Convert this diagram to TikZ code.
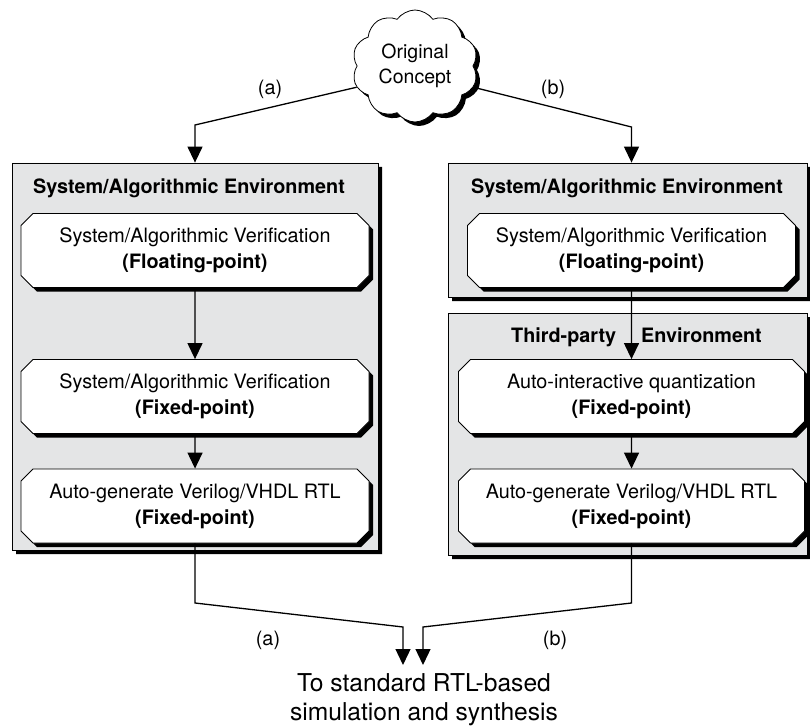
\documentclass[tikz,border=0pt]{standalone}
\usepackage{fontspec}
\setmainfont{TeX Gyre Heros}
\usetikzlibrary{arrows.meta,shapes.misc,shapes.symbols,shadows}
\definecolor{envgray}{HTML}{E4E5E6}
\tikzset{
  boxshadow/.style={drop shadow={shadow xshift=4pt, shadow yshift=-4pt, fill=black, opacity=1}},
  envbox/.style={chamfered rectangle, chamfered rectangle xsep=6pt,
    chamfered rectangle ysep=6pt, draw, line width=0.8pt, fill=envgray,
    inner sep=0pt, boxshadow},
  stepbox/.style={chamfered rectangle, chamfered rectangle xsep=6pt,
    chamfered rectangle ysep=6pt, draw, line width=0.8pt, fill=white,
    inner sep=0pt, minimum height=74pt, align=center, boxshadow,
    font=\fontsize{19.8}{26}\selectfont},
  envtitle/.style={font=\fontsize{19.8}{26}\selectfont\bfseries},
  lbl/.style={font=\fontsize{19.8}{26}\selectfont},
  flow/.style={line width=1.3pt, -{Triangle[width=15pt,length=16pt]}}
}
\begin{document}
\begin{tikzpicture}[x=1pt,y=-1pt]
  \useasboundingbox (0,0) rectangle (810,727);
  \node[cloud, cloud puffs=10, cloud puff arc=110, aspect=1.15, draw,
    fill=white, line width=0.8pt, minimum width=126pt, minimum height=112pt,
    inner sep=0pt, align=center, boxshadow,
    font=\fontsize{19.5}{25}\selectfont] (concept) at (415,66) {Original\\Concept};

  \node[envbox, minimum width=366pt, minimum height=387pt] (envA) at (195,356.5) {};
  \node[envbox, minimum width=359pt, minimum height=134pt] (envB) at (627.5,230) {};
  \node[envbox, minimum width=359pt, minimum height=242pt] (envC) at (627.5,434) {};
  \node[envtitle] (titleA) at (189,188) {System/Algorithmic Environment};
  \node[envtitle] (titleB) at (627,188) {System/Algorithmic Environment};
  \node[envtitle] (titleC) at (636.5,337) {Third-party\hspace{25pt}Environment};

  \node[stepbox, minimum width=348pt] (verA1) at (195,250.5)
    {System/Algorithmic Verification\\\textbf{(Floating-point)}};
  \node[stepbox, minimum width=348pt] (verA2) at (195,396.5)
    {System/Algorithmic Verification\\\textbf{(Fixed-point)}};
  \node[stepbox, minimum width=348pt] (rtlA) at (195,506)
    {Auto-generate Verilog/VHDL RTL\\\textbf{(Fixed-point)}};
  \node[stepbox, minimum width=328pt] (verB) at (631.5,250.5)
    {System/Algorithmic Verification\\\textbf{(Floating-point)}};
  \node[stepbox, minimum width=346pt] (quantB) at (631.5,396.5)
    {Auto-interactive quantization\\\textbf{(Fixed-point)}};
  \node[stepbox, minimum width=346pt] (rtlB) at (631.5,506)
    {Auto-generate Verilog/VHDL RTL\\\textbf{(Fixed-point)}};

  \coordinate (bendA) at (195,125);
  \coordinate (bendB) at (631.5,127);
  \draw[flow] (concept.200) -- (bendA) -- (envA.north);
  \draw[flow] (concept.340) -- (bendB) -- (bendB |- envB.north);
  \node[lbl] (labA) at (270,89) {(a)};
  \node[lbl] (labB) at (553,89) {(b)};

  \draw[flow] (verA1) -- (verA2);
  \draw[flow] (verA2) -- (rtlA);
  \draw[flow] (verB) -- (quantB);
  \draw[flow] (quantB) -- (rtlB);

  \coordinate (joinA) at (195,603);
  \coordinate (dropA) at (403,627);
  \coordinate (tipA) at (403,665);
  \coordinate (joinB) at (631.5,603);
  \coordinate (dropB) at (423,627);
  \coordinate (tipB) at (423,665);
  \draw[flow] (rtlA.south) -- (joinA) -- (dropA) -- (tipA);
  \draw[flow] (rtlB.south) -- (joinB) -- (dropB) -- (tipB);
  \node[lbl] (labA2) at (268,640) {(a)};
  \node[lbl] (labB2) at (555,640) {(b)};
  \node[align=center, font=\fontsize{24.6}{29}\selectfont] (sink) at (424,700)
    {To standard RTL-based\\simulation and synthesis};
\end{tikzpicture}
\end{document}
